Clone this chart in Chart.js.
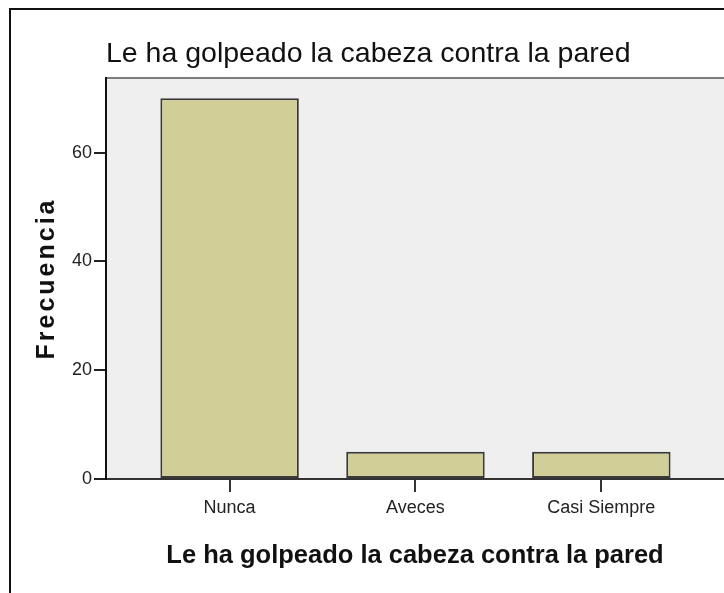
<!DOCTYPE html>
<html>
<head>
<meta charset="utf-8">
<script src="https://cdn.jsdelivr.net/npm/chart.js@4.4.1/dist/chart.umd.min.js"></script>
<style>
html, body { margin: 0; padding: 0; background: #fff; overflow: hidden; }
#frame { position: absolute; left: 9px; top: 8px; width: 800px; height: 700px; border-left: 2px solid #111; border-top: 2px solid #111; }
#wrap { position: absolute; left: 0; top: 0; width: 724px; height: 593px; }
</style>
</head>
<body>
<div id="frame"></div>
<div id="wrap"><canvas id="myChart" width="724" height="593"></canvas></div>
<script>
var categories = ["Nunca", "Aveces", "Casi Siempre"];
var counts = [70, 5, 5];
var yTicks = [0, 20, 40, 60];
var chartTitle = "Le ha golpeado la cabeza contra la pared";
var xTitle = "Le ha golpeado la cabeza contra la pared";
var yTitle = "Frecuencia";

var sans = "'Liberation Sans', Arial, sans-serif";

// grey plot area + top edge, and wider letters for the y title
var plotBg = {
    id: "plotBg",
    beforeDraw: function (chart) {
        var a = chart.chartArea;
        var ctx = chart.ctx;
        ctx.save();
        ctx.fillStyle = "#efefef";
        ctx.fillRect(a.left, a.top, a.right - a.left, a.bottom - a.top);
        ctx.strokeStyle = "#7d7d7d";
        ctx.lineWidth = 2;
        ctx.beginPath();
        ctx.moveTo(a.left, a.top);
        ctx.lineTo(a.right, a.top);
        ctx.stroke();
        ctx.restore();
        var ys = chart.scales.y;
        if (ys && !ys._spaced) {
            var orig = ys.drawTitle;
            ys.drawTitle = function () {
                this.ctx.save();
                this.ctx.letterSpacing = "3px";
                orig.apply(this, arguments);
                this.ctx.restore();
            };
            ys._spaced = true;
        }
    }
};

var myChart = document.getElementById("myChart").getContext("2d");
var barChart = new Chart(myChart, {
    type: "bar",
    data: {
        datasets: [{
            label: "Frecuencia",
            data: categories.map(function (c, i) { return { x: i, y: counts[i] }; }),
            backgroundColor: "#d2ce98",
            borderColor: "#3a3a3a",
            borderWidth: 2,
            borderSkipped: false,
            barPercentage: 0.745,
            categoryPercentage: 1
        }]
    },
    options: {
        responsive: false,
        animation: false,
        layout: { padding: 0 },
        plugins: {
            legend: { display: false },
            tooltip: { enabled: false },
            title: {
                display: true,
                text: chartTitle,
                align: "start",
                fullSize: false,
                color: "#111",
                font: { family: sans, size: 28.5, weight: "normal" },
                padding: { top: 37.5, bottom: 6.3 }
            }
        },
        scales: {
            x: {
                type: "linear",
                offset: false,
                min: -0.665,
                max: 2.66,
                afterBuildTicks: function (scale) {
                    scale.ticks = categories.map(function (c, i) { return { value: i }; });
                },
                afterFit: function (scale) { scale.height = 114; },
                ticks: {
                    color: "#222",
                    padding: 5,
                    font: { family: sans, size: 18 },
                    callback: function (v) { return categories[v]; }
                },
                grid: { offset: false, drawOnChartArea: false, tickLength: 13, color: "#333", lineWidth: 2 },
                border: { display: true, color: "#333", width: 2 },
                title: {
                    display: true,
                    text: xTitle,
                    color: "#111",
                    font: { family: sans, size: 25.5, weight: "bold" },
                    padding: { top: 0, bottom: 21.5 }
                }
            },
            y: {
                min: 0,
                max: 73.7,
                afterBuildTicks: function (scale) {
                    scale.ticks = yTicks.map(function (v) { return { value: v }; });
                },
                afterFit: function (scale) { scale.width = 106; },
                ticks: {
                    color: "#222",
                    padding: 2,
                    font: { family: sans, size: 18 }
                },
                grid: { drawOnChartArea: false, tickLength: 12, color: "#222", lineWidth: 2 },
                border: { display: true, color: "#111", width: 2 },
                title: {
                    display: true,
                    text: yTitle,
                    color: "#111",
                    font: { family: sans, size: 25, weight: "bold" },
                    padding: { top: 32, bottom: 0 }
                }
            }
        }
    },
    plugins: [plotBg]
});
</script>
</body>
</html>
